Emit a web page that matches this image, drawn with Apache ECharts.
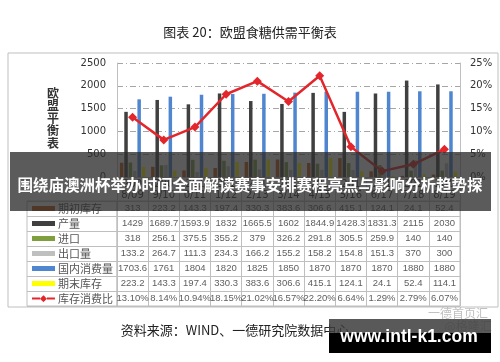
<!DOCTYPE html>
<html>
<head>
<meta charset="utf-8">
<script src="https://cdn.jsdelivr.net/npm/echarts@6/dist/echarts.min.js"></script>
<style>
html,body{margin:0;padding:0;background:#fff;}
#c{width:500px;height:362px;}
</style>
</head>
<body>
<div id="c"></div>
<script>
const categories = ['2008/09','2009/10','2010/11','2011/12','2012/13','2013/14','2014/15','2015/16','2016/17','2017/18','2018/19'];
const seriesNames = ['期初库存','产量','进口','出口量','国内消费量','期末库存','库存消费比'];
const openingStock = [313,223.2,143.3,197.4,330.3,383.6,306.6,415.1,124.1,24.1,52.4];
const production = [1429,1689.7,1593.9,1832,1665.5,1602,1844.9,1428.3,1831.3,2115,2030];
const imports = [318,256.1,375.5,355.2,379,326.2,291.8,305.5,259.9,140,140];
const exportsQ = [133.2,264.7,111.3,234.3,166.2,155.2,158.2,154.8,151.3,370,300];
const consumption = [1703.6,1761,1804,1820,1825,1850,1870,1870,1870,1880,1880];
const endingStock = [223.2,143.3,197.4,330.3,383.6,306.6,415.1,124.1,24.1,52.4,114.1];
const stockRatio = [13.10,8.14,10.94,18.15,21.02,16.57,22.20,6.64,1.29,2.79,6.07];
const colors = ['#C55A11','#404040','#7F9F3F','#BFBFBF','#4F86CF','#FFFF00','#E3262B'];

const barRows = [openingStock, production, imports, exportsQ, consumption, endingStock];
const tableRows = barRows.map(r => r.map(v => String(v)))
  .concat([stockRatio.map(v => v.toFixed(2) + '%')]);

const cellData = [];
tableRows.forEach((row, r) => row.forEach((txt, c) => cellData.push([c, r, txt])));

const gridDash = [6, 3, 1, 3];
const lineCol = '#BFBFBF';

const rich = {
  t: {fontSize: 11, color: '#555', padding: [0,0,0,3], fontFamily: 'Noto Sans CJK SC'},
  r: {width: 8, height: 2, backgroundColor: colors[6]},
  d: {fontSize: 9, color: colors[6], fontFamily: 'DejaVu Sans'}
};
colors.slice(0,6).forEach((c,i) => { rich['i'+i] = {width: 23, height: 5, backgroundColor: c}; });

const barSeries = barRows.map((data, i) => ({
  name: seriesNames[i], type: 'bar', xAxisIndex: 0, yAxisIndex: 0,
  data: data, barWidth: 3.5, barGap: '25%', barCategoryGap: '16%',
  itemStyle: {color: colors[i]}, silent: true
}));

const chart = echarts.init(document.getElementById('c'), null, {renderer: 'canvas'});
chart.setOption({
  backgroundColor: '#fff',
  animation: false,
  textStyle: {fontFamily: 'DejaVu Sans'},
  grid: [
    {left: 117, right: 40, top: 63, bottom: 185},
    {left: 117, right: 40, top: 201, height: 105, show: true, borderColor: lineCol, borderWidth: 1},
    {left: 27, width: 90, top: 201, height: 105, show: true, borderColor: lineCol, borderWidth: 1}
  ],
  xAxis: [
    {type: 'category', gridIndex: 0, data: categories,
     axisLine: {lineStyle: {color: lineCol}},
     axisTick: {show: true, length: 24, alignWithLabel: false, interval: 0, lineStyle: {color: lineCol}},
     axisLabel: {interval: 0, fontSize: 10, lineHeight: 11, margin: 2, color: '#333',
       formatter: v => v.slice(0,3) + '\n' + v.slice(3)}},
    {type: 'category', gridIndex: 1, data: categories, position: 'top',
     axisLine: {show: false}, axisTick: {show: false}, axisLabel: {show: false},
     splitLine: {show: true, interval: 0, lineStyle: {color: lineCol}}},
    {type: 'category', gridIndex: 2, data: ['x'], show: false}
  ],
  yAxis: [
    {type: 'value', gridIndex: 0, min: 0, max: 2500, interval: 500,
     axisLine: {show: true, lineStyle: {color: lineCol}}, axisTick: {show: false},
     axisLabel: {fontSize: 10, color: '#333', margin: 11, formatter: v => String(v)},
     splitLine: {lineStyle: {color: '#A6A6A6', type: gridDash}}},
    {type: 'value', gridIndex: 0, min: 0, max: 25, interval: 5, position: 'right',
     axisLine: {show: true, lineStyle: {color: lineCol}}, axisTick: {show: false},
     axisLabel: {fontSize: 10, color: '#333', margin: 10, formatter: v => v + '%'},
     splitLine: {show: false}},
    {type: 'category', gridIndex: 1, data: seriesNames, inverse: true,
     axisLine: {show: false}, axisTick: {show: false}, axisLabel: {show: false},
     splitLine: {show: true, interval: 0, lineStyle: {color: lineCol}}},
    {type: 'category', gridIndex: 2, data: seriesNames, inverse: true,
     axisLine: {show: false}, axisTick: {show: false},
     splitLine: {show: true, interval: 0, lineStyle: {color: lineCol}},
     axisLabel: {inside: true, margin: 5, interval: 0, rich: rich,
       formatter: (v, idx) => idx < 6 ? '{i' + idx + '|}{t|' + v + '}' : '{r|}{d|◆}{r|}{t|' + v + '}'}}
  ],
  series: barSeries.concat([
    {name: seriesNames[6], type: 'line', xAxisIndex: 0, yAxisIndex: 1, data: stockRatio,
     symbol: 'diamond', symbolSize: 9, lineStyle: {color: colors[6], width: 2.5},
     itemStyle: {color: colors[6]}, silent: true, z: 5},
    {type: 'scatter', xAxisIndex: 1, yAxisIndex: 2, data: cellData, symbolSize: 0, silent: true,
     label: {show: true, position: 'inside', formatter: p => p.data[2],
       fontSize: 9.5, color: '#333', fontFamily: 'Liberation Sans'}}
  ]),
  graphic: [
    {type: 'rect', shape: {x: 8, y: 53, width: 490, height: 254}, style: {fill: 'none', stroke: lineCol, lineWidth: 1}, z: -1},
    {type: 'text', x: 250, y: 32, style: {text: '图表 20：欧盟食糖供需平衡表', fontSize: 13, fill: '#222', align: 'center', verticalAlign: 'middle', fontFamily: 'Noto Sans CJK SC'}},
    {type: 'text', x: 53, y: 118, style: {text: '欧\n盟\n平\n衡\n表', fontSize: 12, lineHeight: 12.5, fontWeight: 'bold', fill: '#333', align: 'center', verticalAlign: 'middle', fontFamily: 'Noto Sans CJK SC'}},
    {type: 'text', x: 235, y: 330, style: {text: '资料来源：WIND、一德研究院数据中心', fontSize: 13, fill: '#222', align: 'center', verticalAlign: 'middle', fontFamily: 'Noto Sans CJK SC'}},
    {type: 'text', x: 458, y: 313, style: {text: '一德首页汇', fontSize: 12, fill: 'rgba(150,150,150,0.6)', align: 'center', verticalAlign: 'middle', fontFamily: 'Noto Sans CJK SC'}},
    {type: 'text', x: 468, y: 326, style: {text: '@格隆汇', fontSize: 12, fill: 'rgba(150,150,150,0.6)', align: 'center', verticalAlign: 'middle', fontFamily: 'Noto Sans CJK SC'}},
    {type: 'rect', shape: {x: 10, y: 152, width: 481, height: 59}, style: {fill: 'rgba(45,45,45,0.78)'}, z: 100},
    {type: 'text', x: 250, y: 185, z: 101, style: {text: '围绕庙澳洲杯举办时间全面解读赛事安排赛程亮点与影响分析趋势探', fontSize: 15.5, fontWeight: 'bold', fill: '#fff', align: 'center', verticalAlign: 'middle', fontFamily: 'Noto Sans CJK SC'}},
    {type: 'rect', shape: {x: 329, y: 319, width: 162, height: 14}, style: {fill: 'rgba(60,60,60,0.85)'}, z: 100},
    {type: 'rect', shape: {x: 329, y: 333, width: 162, height: 20}, style: {fill: '#000'}, z: 100},
    {type: 'text', x: 409, y: 337, z: 101, style: {text: 'www.intl-k1.com', fontSize: 17.5, fontWeight: 'bold', fill: '#fff', align: 'center', verticalAlign: 'middle', fontFamily: 'Liberation Sans'}}
  ]
});
</script>
</body>
</html>
